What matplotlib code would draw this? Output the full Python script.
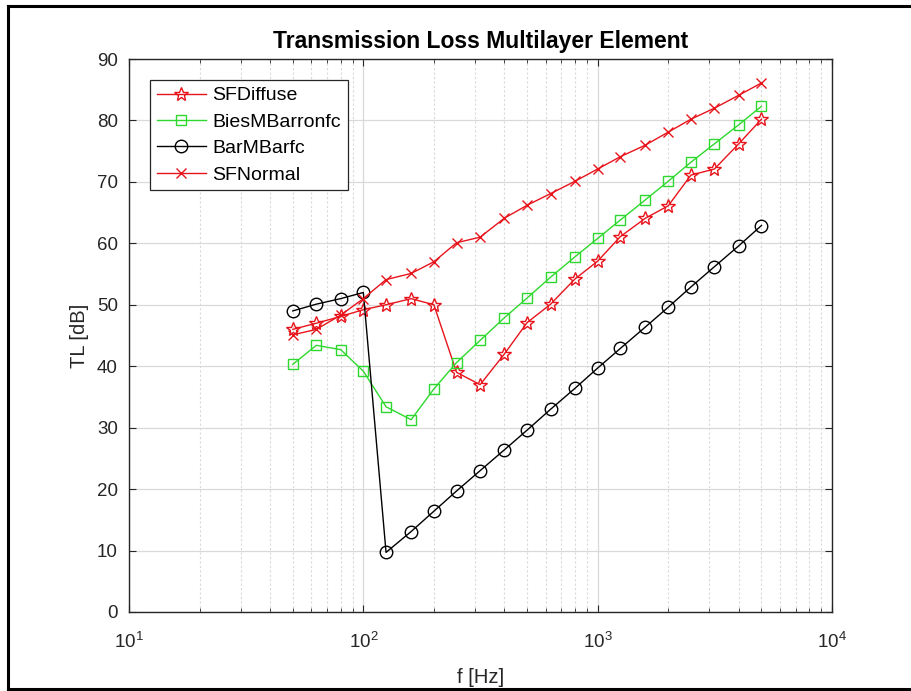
import matplotlib
matplotlib.use("Agg")
import matplotlib.pyplot as plt
from matplotlib.lines import Line2D
from matplotlib.ticker import LogLocator, MultipleLocator

plt.rcParams['font.family'] = ['Liberation Sans', 'DejaVu Sans']
plt.rcParams['mathtext.fontset'] = 'custom'
plt.rcParams['mathtext.rm'] = 'Liberation Sans'
plt.rcParams['mathtext.it'] = 'Liberation Sans'

# Third-octave band centre frequencies [Hz]
freq = [50, 63, 80, 100, 125, 160, 200, 250, 315, 400, 500, 630, 800,
        1000, 1250, 1600, 2000, 2500, 3150, 4000, 5000]

# Transmission loss [dB] per model
sf_diffuse = [46.0, 47.0, 48.1, 49.2, 50.0, 51.0, 50.0, 39.0, 37.0, 42.0, 47.1,
              50.1, 54.2, 57.1, 61.1, 64.1, 66.1, 71.1, 72.1, 76.2, 80.2]
bies_mbarron = [40.3, 43.4, 42.7, 39.2, 33.4, 31.3, 36.3, 40.6, 44.2, 47.9, 51.1,
                54.5, 57.8, 60.8, 63.8, 67.1, 70.1, 73.2, 76.2, 79.3, 82.3]
bar_mbar = [49.0, 50.1, 51.0, 52.0, 9.7, 13.1, 16.4, 19.7, 23.0, 26.4, 29.6,
            33.0, 36.4, 39.7, 42.9, 46.4, 49.6, 52.9, 56.2, 59.6, 62.9]
sf_normal = [45.1, 46.0, 48.3, 51.0, 54.1, 55.1, 57.0, 60.1, 61.0, 64.1, 66.2,
             68.1, 70.1, 72.1, 74.1, 76.0, 78.1, 80.2, 82.0, 84.1, 86.1]

series_labels = ['SFDiffuse', 'BiesMBarronfc', 'BarMBarfc', 'SFNormal']

fig = plt.figure(figsize=(9.11, 6.91), dpi=100)
ax = fig.add_axes([129 / 911, 1 - 612 / 691, 703 / 911, 553 / 691])

red = '#e8141c'
green = '#2ed82e'
ax.plot(freq, sf_diffuse, color=red, lw=1.0, marker='*', ms=10, mfc='none',
        mew=1.0, label=series_labels[0])
ax.plot(freq, bies_mbarron, color=green, lw=1.0, marker='s', ms=7.5, mfc='none',
        mew=1.0, label=series_labels[1])
ax.plot(freq, bar_mbar, color='black', lw=1.0, marker='o', ms=9, mfc='none',
        mew=1.0, label=series_labels[2])
ax.plot(freq, sf_normal, color=red, lw=1.0, marker='x', ms=7, mfc='none',
        mew=1.0, label=series_labels[3])

ax.set_xscale('log')
ax.set_xlim(10, 1e4)
ax.set_ylim(0, 90)
ax.yaxis.set_major_locator(MultipleLocator(10))
ax.xaxis.set_major_locator(LogLocator(base=10, numticks=10))
ax.xaxis.set_minor_locator(LogLocator(base=10, subs=range(2, 10), numticks=20))

ax.grid(True, which='major', color='#d9d9d9', lw=0.9, ls='-')
ax.grid(True, which='minor', axis='x', color='#d9d9d9', lw=0.8, ls=(0, (2, 2)))
ax.set_axisbelow(True)

ax.tick_params(which='both', direction='in', top=True, right=True,
               colors='#262626', labelsize=13.5)
ax.tick_params(which='major', length=5, width=0.8)
ax.tick_params(which='minor', length=3, width=0.6)
ax.tick_params(axis='y', which='major', pad=8)
ax.tick_params(axis='x', which='major', pad=14)
for s in ax.spines.values():
    s.set_color('#262626')
    s.set_linewidth(1.0)

ax.set_title('Transmission Loss Multilayer Element', fontsize=16.5,
             fontweight='bold', color='black', pad=8)
ax.set_xlabel('f [Hz]', fontsize=14.5, color='#262626', labelpad=12)
ax.set_ylabel('TL [dB]', fontsize=14.5, color='#262626', labelpad=6)

leg = ax.legend(loc='upper left', bbox_to_anchor=(0.03, 0.962), borderaxespad=0,
                fontsize=14, handlelength=2.5, handletextpad=0.35,
                labelspacing=0.45, borderpad=0.35, fancybox=False,
                framealpha=1, edgecolor='#262626')
leg.get_frame().set_linewidth(0.9)

# Outer figure frame
frame_kw = dict(color='black', lw=2.2, transform=fig.transFigure)
fig.add_artist(Line2D([8 / 911, 8 / 911], [1 - 6 / 691, 1 - 689 / 691], **frame_kw))
fig.add_artist(Line2D([8 / 911, 1.0], [1 - 6 / 691, 1 - 6 / 691], **frame_kw))
fig.add_artist(Line2D([8 / 911, 1.0], [1 - 689 / 691, 1 - 689 / 691], **frame_kw))

fig.savefig('out.png', dpi=100, facecolor='white')
